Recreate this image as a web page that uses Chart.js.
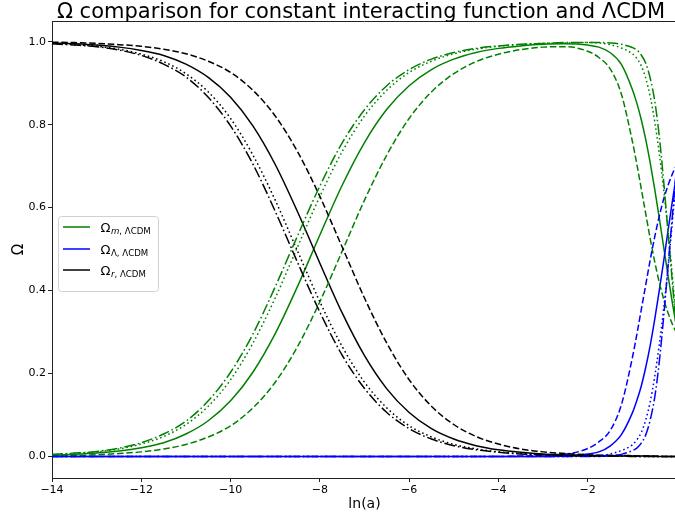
<!DOCTYPE html>
<html>
<head>
<meta charset="utf-8">
<script src="https://cdn.jsdelivr.net/npm/chart.js@4/dist/chart.umd.min.js"></script>
<style>
  html, body { margin: 0; padding: 0; background: #fff; overflow: hidden; }
  #wrap { width: 675px; height: 519px; overflow: hidden; }
  canvas { display: block; }
</style>
</head>
<body>
<div id="wrap"><canvas id="c" width="678" height="519"></canvas></div>
<script>
// ln(a) sample points shared by every curve
const lnA = [-14, -13.5, -13, -12.5, -12, -11.5, -11, -10.5, -10, -9.5, -9, -8.5, -8, -7.5, -7, -6.5, -6,
  -5.5, -5, -4.5, -4, -3.5, -3, -2.5, -2, -1.75, -1.5, -1.25, -1, -0.9, -0.8, -0.7, -0.6, -0.5, -0.4,
  -0.3, -0.2, -0.1, 0];

// Matter density parameter
const omegaM_LCDM = [0.003, 0.005, 0.008, 0.013, 0.021, 0.033, 0.054, 0.086, 0.134, 0.203, 0.296, 0.410, 0.534,
  0.654, 0.757, 0.837, 0.894, 0.933, 0.958, 0.974, 0.984, 0.990, 0.994, 0.995, 0.992, 0.987, 0.974, 0.946,
  0.885, 0.852, 0.812, 0.764, 0.708, 0.645, 0.577, 0.506, 0.436, 0.368, 0.305];
const omegaM_int1 = [0.001, 0.002, 0.004, 0.007, 0.011, 0.018, 0.029, 0.047, 0.074, 0.117, 0.179, 0.265, 0.373,
  0.495, 0.618, 0.727, 0.815, 0.879, 0.923, 0.952, 0.970, 0.981, 0.987, 0.988, 0.977, 0.962, 0.935, 0.875,
  0.760, 0.705, 0.645, 0.585, 0.525, 0.470, 0.421, 0.380, 0.346, 0.318, 0.295];
const omegaM_int2 = [0.004, 0.007, 0.011, 0.018, 0.030, 0.048, 0.077, 0.121, 0.185, 0.273, 0.382, 0.505, 0.627,
  0.735, 0.821, 0.883, 0.926, 0.953, 0.971, 0.982, 0.989, 0.993, 0.996, 0.997, 0.998, 0.997, 0.993, 0.985,
  0.971, 0.960, 0.942, 0.912, 0.868, 0.808, 0.733, 0.645, 0.545, 0.430, 0.305];
const omegaM_int3 = [0.005, 0.008, 0.012, 0.020, 0.033, 0.054, 0.085, 0.134, 0.203, 0.295, 0.409, 0.532, 0.652,
  0.756, 0.836, 0.894, 0.933, 0.958, 0.974, 0.984, 0.990, 0.994, 0.996, 0.998, 0.998, 0.998, 0.997, 0.994,
  0.986, 0.980, 0.968, 0.948, 0.912, 0.858, 0.775, 0.665, 0.540, 0.415, 0.290];

// Dark energy density parameter
const omegaL_LCDM = [0, 0, 0, 0, 0, 0, 0, 0, 0, 0, 0, 0, 0, 0, 0, 0, 0, 0, 0, 0, 0, 0, 0.000, 0.001, 0.006,
  0.011, 0.025, 0.052, 0.105, 0.135, 0.170, 0.215, 0.268, 0.330, 0.398, 0.470, 0.545, 0.618, 0.688];
const omegaL_int1 = [0, 0, 0, 0, 0, 0, 0, 0, 0, 0, 0, 0, 0, 0, 0, 0, 0, 0, 0, 0, 0, 0.001, 0.002, 0.005, 0.019,
  0.035, 0.062, 0.123, 0.238, 0.294, 0.354, 0.414, 0.474, 0.529, 0.578, 0.620, 0.654, 0.682, 0.705];
const omegaL_int2 = [0, 0, 0, 0, 0, 0, 0, 0, 0, 0, 0, 0, 0, 0, 0, 0, 0, 0, 0, 0, 0, 0, 0, 0, 0.001,
  0.002, 0.006, 0.014, 0.028, 0.040, 0.058, 0.088, 0.132, 0.192, 0.267, 0.355, 0.455, 0.570, 0.695];
const omegaL_int3 = [0, 0, 0, 0, 0, 0, 0, 0, 0, 0, 0, 0, 0, 0, 0, 0, 0, 0, 0, 0, 0, 0, 0, 0, 0,
  0.000, 0.002, 0.005, 0.014, 0.020, 0.032, 0.052, 0.088, 0.142, 0.225, 0.335, 0.460, 0.585, 0.710];

// Radiation density parameter
const omegaR_LCDM = [0.997, 0.995, 0.992, 0.987, 0.979, 0.967, 0.946, 0.914, 0.866, 0.797, 0.704, 0.590, 0.466,
  0.346, 0.243, 0.163, 0.106, 0.067, 0.042, 0.026, 0.016, 0.010, 0.006, 0.004, 0.002, 0.002, 0.001, 0.001,
  0.001, 0.001, 0.001, 0.001, 0.001, 0.000, 0.000, 0.000, 0.000, 0.000, 0.000];
const omegaR_int1 = [0.999, 0.998, 0.996, 0.993, 0.989, 0.982, 0.971, 0.953, 0.926, 0.883, 0.821, 0.735, 0.627,
  0.505, 0.382, 0.273, 0.185, 0.121, 0.077, 0.048, 0.030, 0.018, 0.011, 0.007, 0.004, 0.003, 0.003, 0.002,
  0.002, 0.001, 0.001, 0.001, 0.001, 0.001, 0.001, 0.000, 0.000, 0.000, 0.000];
const omegaR_int2 = [0.996, 0.993, 0.989, 0.982, 0.970, 0.952, 0.923, 0.879, 0.815, 0.727, 0.618, 0.495, 0.373,
  0.265, 0.179, 0.117, 0.074, 0.047, 0.029, 0.018, 0.011, 0.007, 0.004, 0.002, 0.001, 0.001, 0.001, 0.001,
  0.001, 0.000, 0.000, 0.000, 0.000, 0.000, 0.000, 0.000, 0.000, 0.000, 0.000];
const omegaR_int3 = [0.995, 0.992, 0.988, 0.980, 0.967, 0.946, 0.915, 0.866, 0.797, 0.705, 0.591, 0.468, 0.348,
  0.244, 0.164, 0.106, 0.067, 0.042, 0.026, 0.016, 0.010, 0.006, 0.004, 0.002, 0.001, 0.001, 0.001, 0.001,
  0.000, 0.000, 0.000, 0.000, 0.000, 0.000, 0.000, 0.000, 0.000, 0.000, 0.000];

const xTicks = [-14, -12, -10, -8, -6, -4, -2];
const yTicks = [0.0, 0.2, 0.4, 0.6, 0.8, 1.0];

const TITLE = 'Ω comparison for constant interacting function and ΛCDM';
const FONT = '"DejaVu Sans", sans-serif';

const GREEN = '#008000', BLUE = '#0000ff', BLACK = '#000000';
const STYLE = {
  solid: [],
  dashed: [6.5, 2.8],
  dotted: [1.6, 2.8],
  dashdot: [11, 2.8, 1.6, 2.8]
};

const pts = arr => lnA.map((x, i) => ({ x: x, y: arr[i] }));
const series = [
  { label: 'm', data: omegaM_LCDM, color: GREEN, dash: STYLE.solid },
  { label: 'Λ', data: omegaL_LCDM, color: BLUE, dash: STYLE.solid },
  { label: 'r', data: omegaR_LCDM, color: BLACK, dash: STYLE.solid },
  { label: 'm1', data: omegaM_int1, color: GREEN, dash: STYLE.dashed },
  { label: 'Λ1', data: omegaL_int1, color: BLUE, dash: STYLE.dashed },
  { label: 'r1', data: omegaR_int1, color: BLACK, dash: STYLE.dashed },
  { label: 'm2', data: omegaM_int2, color: GREEN, dash: STYLE.dotted },
  { label: 'Λ2', data: omegaL_int2, color: BLUE, dash: STYLE.dotted },
  { label: 'r2', data: omegaR_int2, color: BLACK, dash: STYLE.dotted },
  { label: 'm3', data: omegaM_int3, color: GREEN, dash: STYLE.dashdot },
  { label: 'Λ3', data: omegaL_int3, color: BLUE, dash: STYLE.dashdot },
  { label: 'r3', data: omegaR_int3, color: BLACK, dash: STYLE.dashdot }
];

const datasets = series.map((s, i) => ({
  label: s.label,
  data: pts(s.data),
  borderColor: s.color,
  backgroundColor: s.color,
  borderWidth: 1.5,
  borderDash: s.dash,
  borderCapStyle: 'butt',
  pointRadius: 0,
  fill: false,
  cubicInterpolationMode: 'monotone',
  order: series.length - i   // later series sit on top
}));

// Legend entries: Ω with a subscript (symbol + ", ΛCDM")
const legendEntries = [
  { color: GREEN, sym: 'm', italic: true },
  { color: BLUE, sym: 'Λ', italic: false },
  { color: BLACK, sym: 'r', italic: true }
];

const decor = {
  id: 'decor',
  afterDraw(chart) {
    const ctx = chart.ctx, a = chart.chartArea;
    ctx.save();
    // top spine
    ctx.strokeStyle = '#222';
    ctx.lineWidth = 1;
    ctx.beginPath();
    ctx.moveTo(a.left, a.top + 0.5);
    ctx.lineTo(a.right, a.top + 0.5);
    ctx.stroke();

    ctx.fillStyle = '#000';
    // title
    ctx.font = '21px ' + FONT;
    ctx.textAlign = 'center';
    ctx.textBaseline = 'alphabetic';
    ctx.fillText(TITLE, 361, 17.5);
    // x axis title
    ctx.font = '14px ' + FONT;
    ctx.fillText('ln(a)', 364.5, 508);
    // y axis title
    ctx.save();
    ctx.translate(23, 249.5);
    ctx.rotate(-Math.PI / 2);
    ctx.font = '15px ' + FONT;
    ctx.fillText('Ω', 0, 0);
    ctx.restore();

    // legend box
    const bx = 58.5, by = 216.5, bw = 100, bh = 75, r = 3;
    ctx.beginPath();
    ctx.moveTo(bx + r, by);
    ctx.arcTo(bx + bw, by, bx + bw, by + bh, r);
    ctx.arcTo(bx + bw, by + bh, bx, by + bh, r);
    ctx.arcTo(bx, by + bh, bx, by, r);
    ctx.arcTo(bx, by, bx + bw, by, r);
    ctx.closePath();
    ctx.fillStyle = 'rgba(255,255,255,0.8)';
    ctx.fill();
    ctx.strokeStyle = '#d0d0d0';
    ctx.lineWidth = 1;
    ctx.stroke();

    const rowY = [227, 249, 270];
    ctx.textAlign = 'left';
    legendEntries.forEach((e, i) => {
      const y = rowY[i];
      ctx.strokeStyle = e.color;
      ctx.lineWidth = 1.5;
      ctx.setLineDash([]);
      ctx.beginPath();
      ctx.moveTo(63, y);
      ctx.lineTo(90, y);
      ctx.stroke();

      ctx.fillStyle = '#000';
      let x = 100.5;
      const base = y + 4.5;
      ctx.font = '13px ' + FONT;
      ctx.fillText('Ω', x, base);
      x += ctx.measureText('Ω').width + 0.5;
      const subBase = base + 2.5;
      ctx.font = (e.italic ? 'italic ' : '') + '8.6px ' + FONT;
      ctx.fillText(e.sym, x, subBase);
      x += ctx.measureText(e.sym).width;
      ctx.font = '8.6px ' + FONT;
      ctx.fillText(', ΛCDM', x, subBase);
    });
    ctx.restore();
  }
};

new Chart(document.getElementById('c'), {
  type: 'line',
  data: { datasets: datasets },
  plugins: [decor],
  options: {
    responsive: false,
    animation: false,
    devicePixelRatio: 1,
    layout: { padding: { top: 21, right: 1, left: 0, bottom: 0 } },
    plugins: {
      legend: { display: false },
      title: { display: false },
      tooltip: { enabled: false }
    },
    scales: {
      x: {
        type: 'linear',
        min: -14,
        max: 0,
        afterFit: s => { s.height = 41; },
        afterBuildTicks: s => { s.ticks = xTicks.map(v => ({ value: v })); },
        border: { display: true, color: '#222', width: 1 },
        grid: { drawOnChartArea: false, drawTicks: true, tickLength: 4, color: '#222', tickWidth: 1 },
        ticks: {
          color: '#000',
          font: { family: FONT, size: 11 },
          padding: 2,
          maxRotation: 0,
          callback: v => String(v).replace('-', '\u2212')
        }
      },
      y: {
        type: 'linear',
        min: -0.052,
        max: 1.05,
        afterFit: s => { s.width = 52; },
        afterBuildTicks: s => { s.ticks = yTicks.map(v => ({ value: v })); },
        border: { display: true, color: '#222', width: 1 },
        grid: { drawOnChartArea: false, drawTicks: true, tickLength: 4, color: '#222', tickWidth: 1 },
        ticks: {
          color: '#000',
          font: { family: FONT, size: 11 },
          padding: 2,
          callback: v => Number(v).toFixed(1)
        }
      }
    }
  }
});
</script>
</body>
</html>
